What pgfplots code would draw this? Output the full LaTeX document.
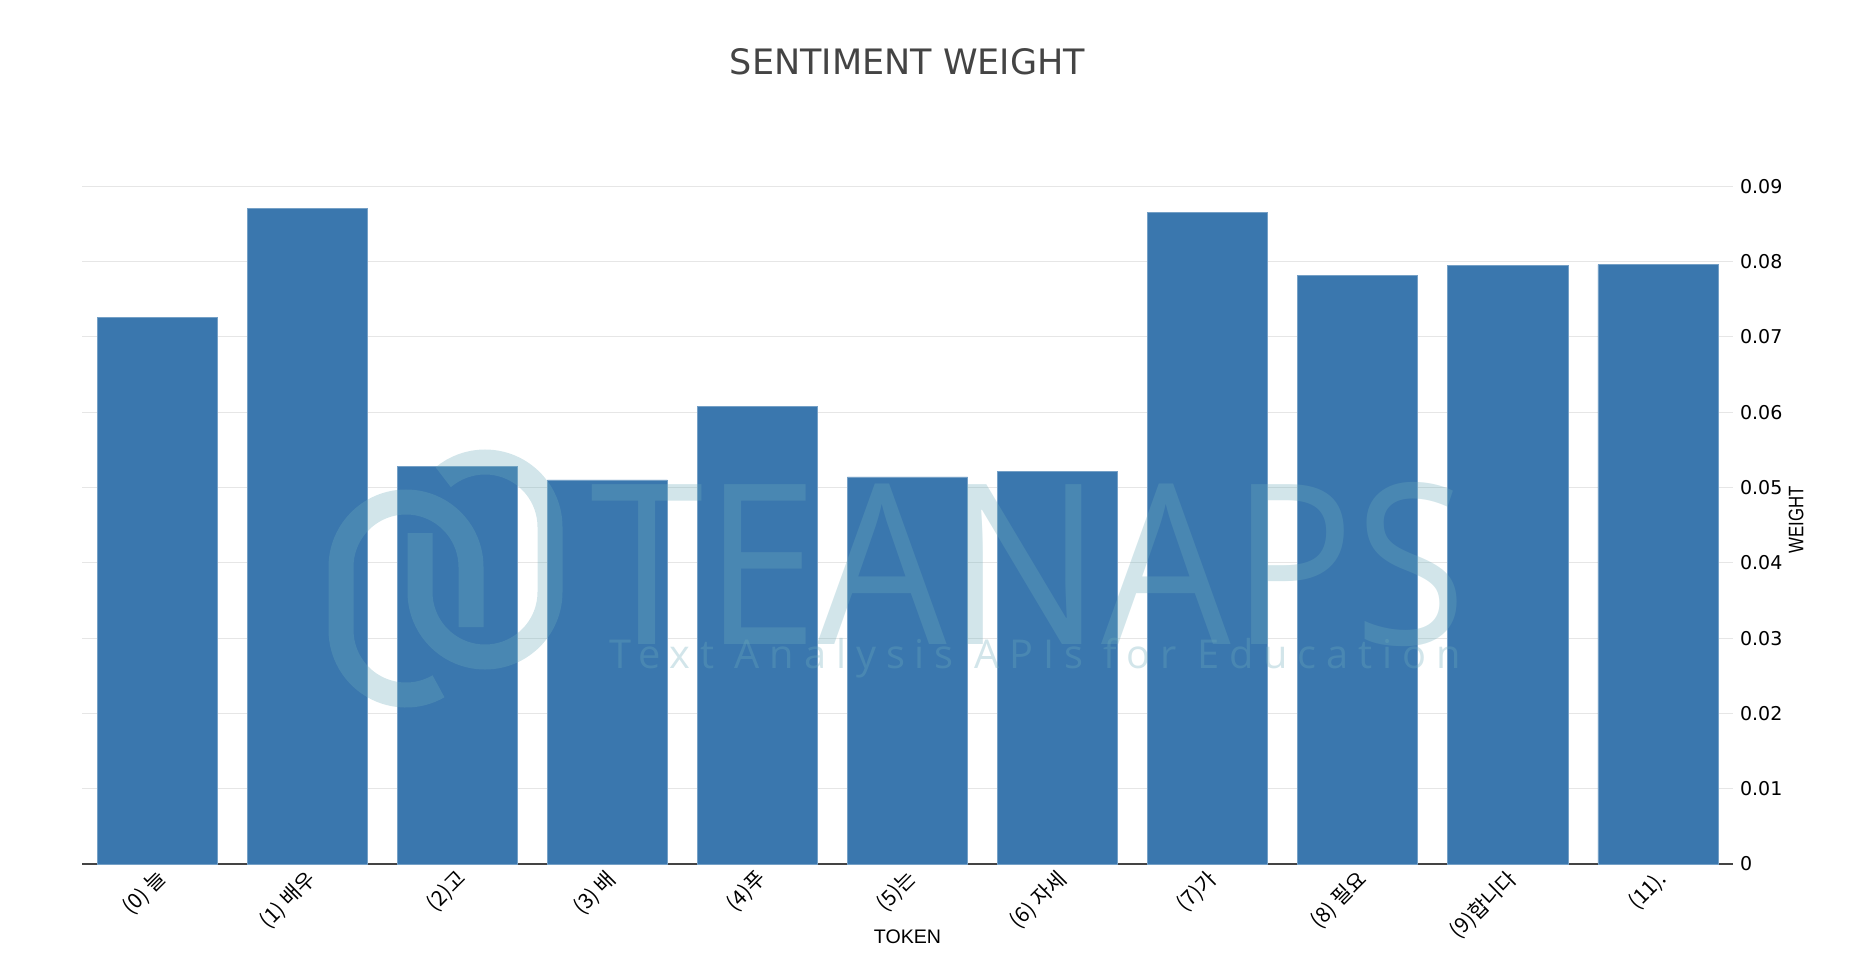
\documentclass[border=0pt]{standalone}
\usepackage{pgfplots}
\pgfplotsset{compat=1.18}
\usepackage{fontspec}
\usepackage{graphicx}
\setmainfont{DejaVu Sans}
\newfontfamily\kr{Noto Sans CJK KR}
\newfontfamily\lab{Liberation Sans}
\newfontfamily\wm{Open Sans}
\newfontfamily\wmsp[LetterSpace=25]{Open Sans}
\definecolor{barblue}{HTML}{3A77AE}
\definecolor{titlegray}{HTML}{444444}
\definecolor{gridgray}{HTML}{E6E6E6}
\definecolor{wmcol}{HTML}{6DACBB}
\begin{document}
\begin{tikzpicture}
\begin{axis}[
  at={(0,0)}, anchor=south west,
  scale only axis, width=825.5pt, height=344.5pt,
  xmin=-0.5, xmax=10.5, ymin=0, ymax=0.0915,
  axis x line=bottom, axis y line=right,
  x axis line style={-, draw=titlegray, line width=0.6pt},
  y axis line style={draw=none},
  xtick=data,
  xticklabels={(0) 늘,(1) 배우,(2)고,(3) 배,(4)푸,(5)는,(6) 자세,(7)가,(8) 필요,(9)합니다,(11).},
  xtick style={draw=none},
  xticklabel style={font=\kr\fontsize{10.5}{12}\selectfont, rotate=45, anchor=north east, inner sep=1pt, yshift=0.5pt, xshift=-1pt},
  ytick={0,0.01,0.02,0.03,0.04,0.05,0.06,0.07,0.08,0.09},
  yticklabels={0,0.01,0.02,0.03,0.04,0.05,0.06,0.07,0.08,0.09},
  scaled y ticks=false,
  yticklabel pos=right,
  yticklabel style={font=\fontsize{9.5}{11}\selectfont, anchor=west, xshift=0pt},
  major tick length=0pt,
  ytick style={draw=none},
  ymajorgrids, grid style={draw=gridgray, line width=0.5pt},
  title={SENTIMENT WEIGHT},
  every axis title/.style={at={(rel axis cs:0.5,1)}, yshift=56.5pt, anchor=center, font=\fontsize{17.5}{20}\selectfont, text=titlegray},
  xlabel={TOKEN},
  every axis x label/.style={at={(rel axis cs:0.5,0)}, yshift=-36.5pt, anchor=center, font=\lab\fontsize{9.8}{11}\selectfont},
  ylabel={\scalebox{0.8}[1]{WEIGHT}},
  every axis y label/.style={at={(rel axis cs:1,0.5)}, xshift=31.5pt, rotate=90, anchor=center, font=\lab\fontsize{10.5}{12}\selectfont},
  ybar, bar width=0.8,
  clip=false,
]
\addplot[fill=barblue, draw=barblue!70!white, line width=0.4pt] coordinates {
 (0,0.0726) (1,0.0870) (2,0.0528) (3,0.0510) (4,0.0608) (5,0.0514)
 (6,0.0521) (7,0.0865) (8,0.0782) (9,0.0795) (10,0.0796)
};
\end{axis}
% watermark
\begin{scope}[draw=wmcol, draw opacity=0.31, line width=12.5pt, line cap=butt]
\draw ({162pt+32.5pt*cos(-60)},{117pt+32.5pt*sin(-60)}) arc[start angle=-60, end angle=-180, radius=32.5pt] -- (129.5pt,148.5pt) arc[start angle=180, end angle=0, radius=32.5pt] -- (194.5pt,118.5pt);
\draw (169pt,165.5pt) -- (169pt,136pt) arc[start angle=180, end angle=360, radius=32.5pt] -- (234pt,168.5pt) arc[start angle=0, end angle=130, radius=32.5pt];
\end{scope}
\node[inner sep=0pt, text=wmcol, text opacity=0.31] at (473.5pt,149.5pt) {\resizebox{438pt}{81pt}{\wm TEANAPS}};
\node[inner sep=0pt, text=wmcol, text opacity=0.31] at (476.5pt,103pt) {\resizebox{426pt}{!}{\wmsp\fontsize{17.5}{20}\selectfont Text Analysis APIs for Education}};
\pgfresetboundingbox
\path[use as bounding box] (-41pt,-56pt) rectangle (887pt,432pt);
\end{tikzpicture}
\end{document}
